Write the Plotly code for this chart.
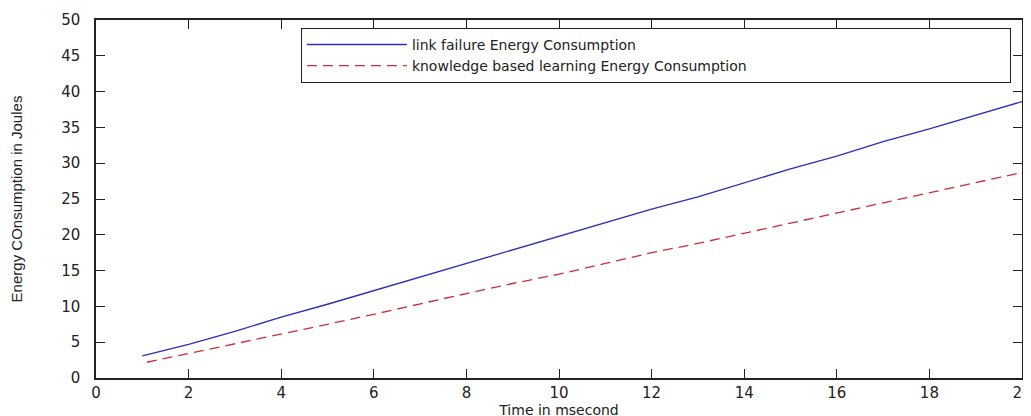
import plotly.graph_objects as go

# Data
x_link = [1, 2, 3, 4, 5, 6, 7, 8, 9, 10, 11, 12, 13, 14, 15, 16, 17, 18, 19, 20]
y_link = [3.1, 4.7, 6.5, 8.5, 10.3, 12.2, 14.1, 16.0, 17.9, 19.7,
          21.7, 23.6, 25.3, 27.3, 29.2, 31.0, 33.0, 34.8, 36.7, 38.6]
x_kbl = [1.1, 2, 3, 4, 5, 6, 7, 8, 9, 10, 11, 12, 13, 14, 15, 16, 17, 18, 19, 20]
y_kbl = [2.2, 3.4, 4.8, 6.1, 7.5, 8.9, 10.4, 11.8, 13.2, 14.5,
         16.0, 17.5, 18.8, 20.2, 21.7, 23.1, 24.5, 25.8, 27.2, 28.7]

name_link = "link failure Energy Consumption"
name_kbl = "knowledge based learning Energy Consumption"
x_title = "Time in msecond"
y_title = "Energy COnsumption in Joules"
x_ticks = list(range(0, 21, 2))
y_ticks = list(range(0, 51, 5))

WIDE = "DejaVu Sans, Verdana, sans-serif"
NARROW = "Liberation Sans Narrow, Liberation Sans, Arial, sans-serif"

fig = go.Figure()
fig.add_trace(go.Scatter(x=x_link, y=y_link, mode="lines", name=name_link,
                         line=dict(color="rgb(45,45,185)", width=1.3)))
fig.add_trace(go.Scatter(x=x_kbl, y=y_kbl, mode="lines", name=name_kbl,
                         line=dict(color="rgb(205,45,60)", width=1.3, dash="10px,6px")))

axis_common = dict(showline=True, linecolor="#222", linewidth=1.5, mirror="ticks",
                   ticks="inside", ticklen=9, tickwidth=1.2, tickcolor="#222",
                   showgrid=False, zeroline=False, automargin=False,
                   tickfont=dict(family=WIDE, size=15, color="#222"))

fig.update_layout(
    width=1031, height=416,
    margin=dict(l=88, r=17, t=12, b=46),
    paper_bgcolor="white", plot_bgcolor="white",
    showlegend=True,
    legend=dict(orientation="h", entrywidth=593, entrywidthmode="pixels",
                x=0.988, xanchor="right", y=0.978, yanchor="top",
                bordercolor="#222", borderwidth=1, bgcolor="white",
                font=dict(family=WIDE, size=14, color="#222"),
                tracegroupgap=0, itemwidth=100),
    xaxis=dict(range=[0, 20], tickvals=x_ticks,
               title=dict(text=x_title, standoff=0,
                          font=dict(family=WIDE, size=14, color="#222")),
               **axis_common),
    yaxis=dict(range=[0, 50], tickvals=y_ticks, ticklabelstandoff=11,
               title=dict(text=y_title, standoff=45,
                          font=dict(family=NARROW, size=15, color="#222")),
               **axis_common),
)

fig.write_html("out.html")
